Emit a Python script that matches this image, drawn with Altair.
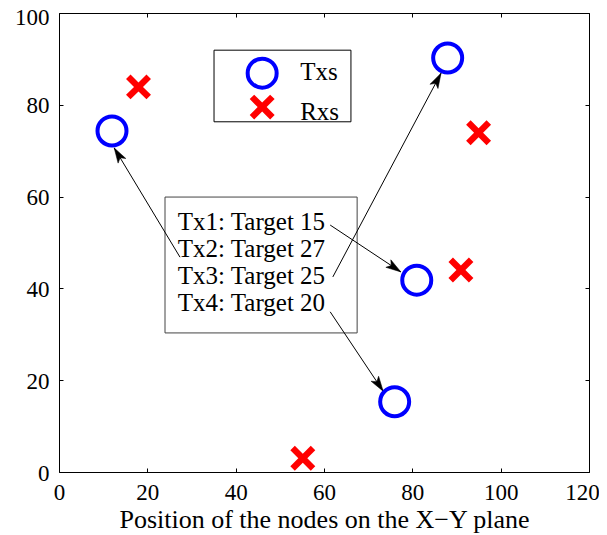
import math
import altair as alt
import pandas as pd

# ---- data ----
tx_x = [12, 88, 81, 76]
tx_y = [74.3, 90.2, 41.8, 15.3]
rx_x = [18, 95, 91, 55.2]
rx_y = [83.9, 73.9, 44.0, 3.0]

labels = ["Tx1: Target 15", "Tx2: Target 27", "Tx3: Target 25", "Tx4: Target 20"]
label_x = [26.9, 26.9, 26.9, 26.9]
label_y = [52.7, 46.8, 40.9, 35.0]

# arrows: start (near text) -> tip (near transmitter)
arr_x1 = [61.4, 27.4, 62.0, 61.4]
arr_y1 = [53.8, 46.8, 42.5, 34.9]
arr_x2 = [77.4, 12.5, 86.5, 73.4]
arr_y2 = [43.6, 70.6, 86.9, 17.6]

# annotation boxes: text box, legend box
box_x = [24.0, 35.1]
box_x2 = [67.5, 66.1]
box_y = [30.3, 76.3]
box_y2 = [59.9, 91.9]
box_stroke = ["#444", "black"]

# legend entries
legend_names = ["Txs", "Rxs"]
legend_sym_x = [46.0, 46.0]
legend_sym_y = [86.9, 79.5]
legend_lab_x = [54.6, 54.6]
legend_lab_y = [85.4, 76.7]

x_ticks = [0, 20, 40, 60, 80, 100, 120]
y_ticks = [0, 20, 40, 60, 80, 100]

W, H = 530, 459
FONT = "Liberation Serif"

pts = pd.DataFrame({
    "x": tx_x + rx_x,
    "y": tx_y + rx_y,
    "series": ["Txs"] * len(tx_x) + ["Rxs"] * len(rx_x),
})
leg_pts = pd.DataFrame({"x": legend_sym_x, "y": legend_sym_y, "series": legend_names})
leg_txt = pd.DataFrame({"x": legend_lab_x, "y": legend_lab_y, "t": legend_names})

sx = W / 120.0
sy = H / 100.0
angles = []
for a, b, c, d in zip(arr_x1, arr_y1, arr_x2, arr_y2):
    ang = math.degrees(math.atan2((c - a) * sx, (d - b) * sy)) % 360
    angles.append(ang)
arrows = pd.DataFrame({"x1": arr_x1, "y1": arr_y1, "x2": arr_x2, "y2": arr_y2, "angle": angles})
texts = pd.DataFrame({"x": label_x, "y": label_y, "t": labels})
box = pd.DataFrame({"x": box_x, "x2": box_x2, "y": box_y, "y2": box_y2, "s": box_stroke})

xs = alt.Scale(domain=[0, 120], nice=False, zero=False)
ys = alt.Scale(domain=[0, 100], nice=False, zero=False)

X_CROSS = ("M-0.86,-0.55L-0.55,-0.86L0,-0.31L0.55,-0.86L0.86,-0.55L0.31,0"
           "L0.86,0.55L0.55,0.86L0,0.31L-0.55,0.86L-0.86,0.55L-0.31,0Z")
ARROW = "M0,0L0.45,1.5L0,1.15L-0.45,1.5Z"

main_x_axis = alt.Axis(values=x_ticks, domain=False, offset=-4, tickSize=4, tickColor="black",
                       labelPadding=9, labelFont=FONT, labelFontSize=23, labelColor="black",
                       labelFlush=False,
                       labelOffset={"condition": {"test": "datum.value == 120", "value": -7}, "value": 0},
                       title="Position of the nodes on the X\u2212Y plane", titleFont=FONT,
                       titleFontSize=26, titleFontWeight="normal", titleColor="black",
                       titleBaseline="alphabetic", titleY=59, grid=False)
main_y_axis = alt.Axis(values=y_ticks, domain=False, offset=-4, tickSize=4, tickColor="black",
                       labelPadding=10, labelFont=FONT, labelFontSize=23, labelColor="black",
                       labelFlush=False,
                       labelOffset={"condition": {"test": "datum.value == 100", "value": 4}, "value": 1},
                       title=None, grid=False)

top_axis = alt.Axis(orient="top", values=x_ticks, domain=False, offset=-4, tickSize=4,
                    tickColor="black", labels=False, title=None, grid=False)
right_axis = alt.Axis(orient="right", values=y_ticks, domain=False, offset=-4, tickSize=4,
                      tickColor="black", labels=False, title=None, grid=False)

box_layer = alt.Chart(box).mark_rect(fill="white", strokeWidth=1).encode(
    x=alt.X("x:Q", scale=xs, axis=top_axis),
    x2="x2:Q",
    y=alt.Y("y:Q", scale=ys, axis=right_axis),
    y2="y2:Q",
    stroke=alt.Stroke("s:N", scale=None),
)

text_layer = alt.Chart(texts).mark_text(align="left", baseline="alphabetic", font=FONT,
                                        fontSize=25, color="black").encode(
    x=alt.X("x:Q", scale=xs, axis=None),
    y=alt.Y("y:Q", scale=ys, axis=None),
    text="t:N",
)

leg_text_layer = alt.Chart(leg_txt).mark_text(align="left", baseline="alphabetic", font=FONT,
                                              fontSize=25, color="black").encode(
    x=alt.X("x:Q", scale=xs, axis=None),
    y=alt.Y("y:Q", scale=ys, axis=None),
    text="t:N",
)

rule_layer = alt.Chart(arrows).mark_rule(color="black", strokeWidth=1).encode(
    x=alt.X("x1:Q", scale=xs, axis=None),
    y=alt.Y("y1:Q", scale=ys, axis=None),
    x2="x2:Q",
    y2="y2:Q",
)

head_layer = alt.Chart(arrows).mark_point(shape=ARROW, size=400, filled=True, fill="black",
                                          stroke="black", strokeWidth=0.5, opacity=1).encode(
    x=alt.X("x2:Q", scale=xs, axis=None),
    y=alt.Y("y2:Q", scale=ys, axis=None),
    angle=alt.Angle("angle:Q", scale=None),
)

dom = ["Txs", "Rxs"]
shape_enc = alt.Shape("series:N", scale=alt.Scale(domain=dom, range=["circle", X_CROSS]), legend=None)
fill_enc = alt.Fill("series:N", scale=alt.Scale(domain=dom, range=["transparent", "#ff0000"]), legend=None)
stroke_enc = alt.Stroke("series:N", scale=alt.Scale(domain=dom, range=["#0000ff", "transparent"]), legend=None)

point_layer = alt.Chart(pts).mark_point(size=841, filled=True, strokeWidth=4, opacity=1).encode(
    x=alt.X("x:Q", scale=xs, axis=main_x_axis),
    y=alt.Y("y:Q", scale=ys, axis=main_y_axis),
    shape=shape_enc, fill=fill_enc, stroke=stroke_enc,
)

leg_point_layer = alt.Chart(leg_pts).mark_point(size=841, filled=True, strokeWidth=4, opacity=1).encode(
    x=alt.X("x:Q", scale=xs, axis=None),
    y=alt.Y("y:Q", scale=ys, axis=None),
    shape=shape_enc, fill=fill_enc, stroke=stroke_enc,
)

chart = alt.layer(box_layer, rule_layer, head_layer, text_layer, point_layer,
                  leg_point_layer, leg_text_layer).resolve_axis(
    x="independent", y="independent"
).properties(
    width=W, height=H,
    background="white",
    autosize=alt.AutoSizeParams(type="none"),
    padding={"left": 51, "top": 5, "right": 10, "bottom": 62},
).configure_view(stroke="black", strokeWidth=1).configure_axis(
    labelFont=FONT, titleFont=FONT
).configure_text(font=FONT)

chart.save("out.html", embed_options={"renderer": "svg", "actions": False})
